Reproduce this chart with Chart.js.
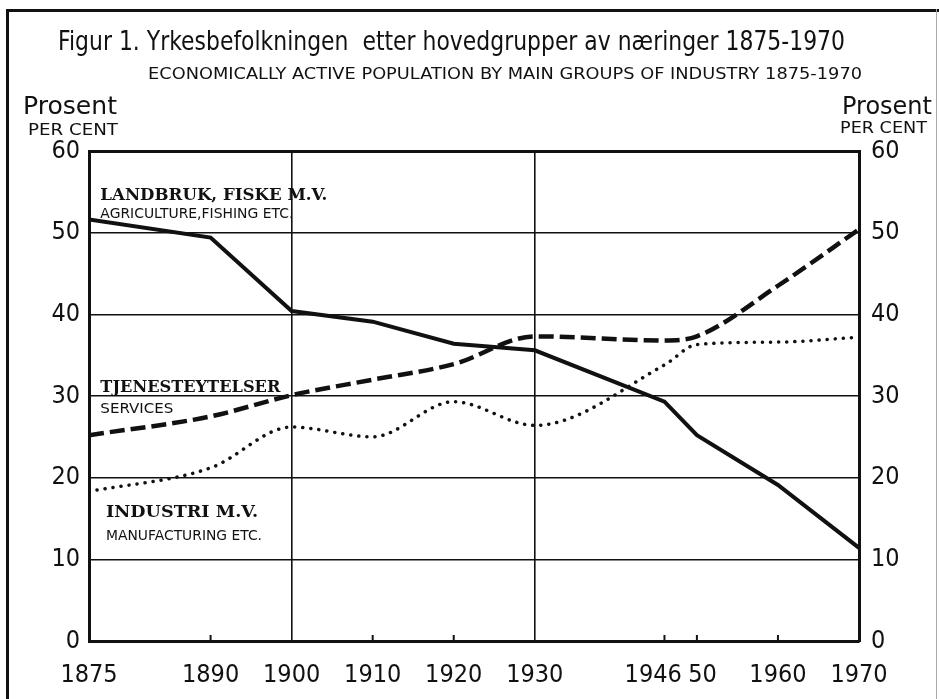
<!DOCTYPE html>
<html><head><meta charset="utf-8">
<script src="https://cdn.jsdelivr.net/npm/chart.js@4"></script>
<style>
html,body{margin:0;padding:0;background:#fff;}
#wrap{position:relative;width:939px;height:699px;overflow:hidden;background:#fff;}
#chart{position:absolute;left:0;top:0;}
.frame{position:absolute;background:#111;}
.txt{position:absolute;white-space:nowrap;color:#111;transform-origin:0 0;line-height:1;font-family:'DejaVu Sans',sans-serif;}
</style></head><body>
<div id="wrap">
<canvas id="chart" width="939" height="699"></canvas>
<div class="frame" style="left:6px;top:9px;width:3px;height:690px"></div>
<div class="frame" style="left:6px;top:9px;width:933px;height:3px"></div>
<div class="frame" style="left:936px;top:9px;width:1px;height:690px;background:#aaa"></div>
<div class="txt" data-x="58" data-w="787" data-b="50" data-f="27">Figur 1. Yrkesbefolkningen&nbsp; etter hovedgrupper av næringer 1875-1970</div>
<div class="txt" data-x="148" data-w="714" data-b="80" data-f="16.5">ECONOMICALLY ACTIVE POPULATION BY MAIN GROUPS OF INDUSTRY 1875-1970</div>
<div class="txt" data-x="23" data-w="94" data-b="115" data-f="24.5">Prosent</div>
<div class="txt" data-x="28" data-w="90" data-b="136" data-f="16.5">PER CENT</div>
<div class="txt" data-x="842" data-w="90" data-b="115" data-f="24.5">Prosent</div>
<div class="txt" data-x="840" data-w="87" data-b="134" data-f="16.5">PER CENT</div>
</div>
<script>
// ---- data ----
const years = [1875, 1890, 1900, 1910, 1920, 1930, 1946, 1950, 1960, 1970];
const agriculture = [51.6, 49.4, 40.4, 39.1, 36.4, 35.6, 29.3, 25.2, 19.1, 11.4];
const services = [25.2, 27.5, 30.1, 32.0, 33.9, 37.3, 36.8, 37.3, 43.5, 50.4];
const manufacturing = [18.3, 21.2, 26.2, 25.0, 29.3, 26.4, 33.8, 36.3, 36.6, 37.2];
const xTicks = [1875, 1890, 1900, 1910, 1920, 1930, 1946, 1950, 1960, 1970];
const xTickLabels = ['1875', '1890', '1900', '1910', '1920', '1930', '1946\u2003', '\u200250', '1960', '1970'];
const yTicks = [0, 10, 20, 30, 40, 50, 60];
const xGridYears = [1900, 1930];
const innerTickYears = [1890, 1910, 1920, 1946, 1950, 1960];
const seriesLabels = [
  {text: 'LANDBRUK, FISKE M.V.', sub: 'AGRICULTURE,FISHING ETC.'},
  {text: 'TJENESTEYTELSER', sub: 'SERVICES'},
  {text: 'INDUSTRI M.V.', sub: 'MANUFACTURING ETC.'}
];

// fit header texts
document.querySelectorAll('.txt').forEach(el => {
  const f = parseFloat(el.dataset.f);
  el.style.fontSize = f + 'px';
  const w = el.getBoundingClientRect().width;
  const s = parseFloat(el.dataset.w) / w;
  el.style.left = el.dataset.x + 'px';
  el.style.top = (parseFloat(el.dataset.b) - 0.846 * f) + 'px';
  el.style.transform = 'scaleX(' + s + ')';
});

const pts = arr => years.map((y, i) => ({x: y, y: arr[i]}));
const INK = '#111';
const tickFont = {family: "'Liberation Sans Narrow','DejaVu Sans Condensed','DejaVu Sans',sans-serif", size: 25};

function fitText(ctx, text, x, yBase, w, font) {
  ctx.save();
  ctx.font = font;
  const m = ctx.measureText(text).width;
  ctx.translate(x, yBase);
  ctx.scale(w / m, 1);
  ctx.textBaseline = 'alphabetic';
  ctx.fillStyle = INK;
  ctx.fillText(text, 0, 0);
  ctx.restore();
}

const extras = {
  id: 'extras',
  afterDatasetsDraw(chart) {
    const ctx = chart.ctx, xs = chart.scales.x, ys = chart.scales.y;
    const bottom = chart.chartArea.bottom;
    ctx.save();
    ctx.strokeStyle = INK; ctx.lineWidth = 2;
    innerTickYears.forEach(v => {
      const px = xs.getPixelForValue(v);
      ctx.beginPath(); ctx.moveTo(px, bottom); ctx.lineTo(px, bottom - 6); ctx.stroke();
    });
    ctx.restore();
    const pos = chart.options.plugins.extras.positions;
    seriesLabels.forEach((l, i) => {
      const p = pos[i];
      const x = xs.getPixelForValue(p.x);
      const b1 = ys.getPixelForValue(p.y1);
      const b2 = ys.getPixelForValue(p.y2);
      fitText(ctx, l.text, x, b1, p.w1, "bold 16.5px 'DejaVu Serif',serif");
      fitText(ctx, l.sub, x, b2, p.w2, "14px 'DejaVu Sans',sans-serif");
    });
  }
};

new Chart(document.getElementById('chart'), {
  type: 'line',
  data: {
    datasets: [
      {label: 'Landbruk, fiske m.v.', data: pts(agriculture), borderColor: INK, borderWidth: 4, pointRadius: 0, tension: 0, borderJoinStyle: 'miter'},
      {label: 'Tjenesteytelser', data: pts(services), borderColor: INK, borderWidth: 4.5, pointRadius: 0, cubicInterpolationMode: 'monotone', borderDash: [15, 6]},
      {label: 'Industri m.v.', data: pts(manufacturing), borderColor: INK, borderWidth: 3.5, pointRadius: 0, cubicInterpolationMode: 'monotone', borderDash: [0.1, 8], borderCapStyle: 'round'}
    ]
  },
  options: {
    responsive: false,
    animation: false,
    events: [],
    layout: {padding: {top: 151, left: 0, right: 0, bottom: 0}},
    plugins: {
      legend: {display: false},
      tooltip: {enabled: false},
      extras: {positions: [
        {x: 1876.4, y1: 53.95, y2: 51.75, w1: 227, w2: 193},
        {x: 1876.4, y1: 30.45, y2: 27.9, w1: 180, w2: 73},
        {x: 1877.1, y1: 15.15, y2: 12.35, w1: 152, w2: 156}
      ]}
    },
    scales: {
      x: {
        type: 'linear', min: 1875, max: 1970,
        afterBuildTicks: s => { s.ticks = xTicks.map(v => ({value: v})); },
        afterFit: s => { s.height = 58; },
        ticks: {autoSkip: false, maxRotation: 0, padding: 19, color: INK, font: tickFont,
          callback: v => xTickLabels[xTicks.indexOf(v)]},
        grid: {drawTicks: false,
          color: c => (c.tick && xGridYears.includes(c.tick.value)) ? INK : 'rgba(0,0,0,0)',
          lineWidth: 1.6},
        border: {color: INK, width: 3}
      },
      y: {
        position: 'left', min: 0, max: 60,
        afterBuildTicks: s => { s.ticks = yTicks.map(v => ({value: v})); },
        afterFit: s => { s.width = 89; },
        ticks: {padding: 9, color: INK, font: tickFont},
        grid: {drawTicks: false, color: INK, lineWidth: c => (c.tick && c.tick.value === 60) ? 3 : 1.6},
        border: {color: INK, width: 3}
      },
      y2: {
        position: 'right', min: 0, max: 60,
        afterBuildTicks: s => { s.ticks = yTicks.map(v => ({value: v})); },
        afterFit: s => { s.width = 80; },
        ticks: {padding: 12, color: INK, font: tickFont},
        grid: {drawOnChartArea: false, drawTicks: false},
        border: {color: INK, width: 3}
      }
    }
  },
  plugins: [extras]
});
</script>
</body></html>
